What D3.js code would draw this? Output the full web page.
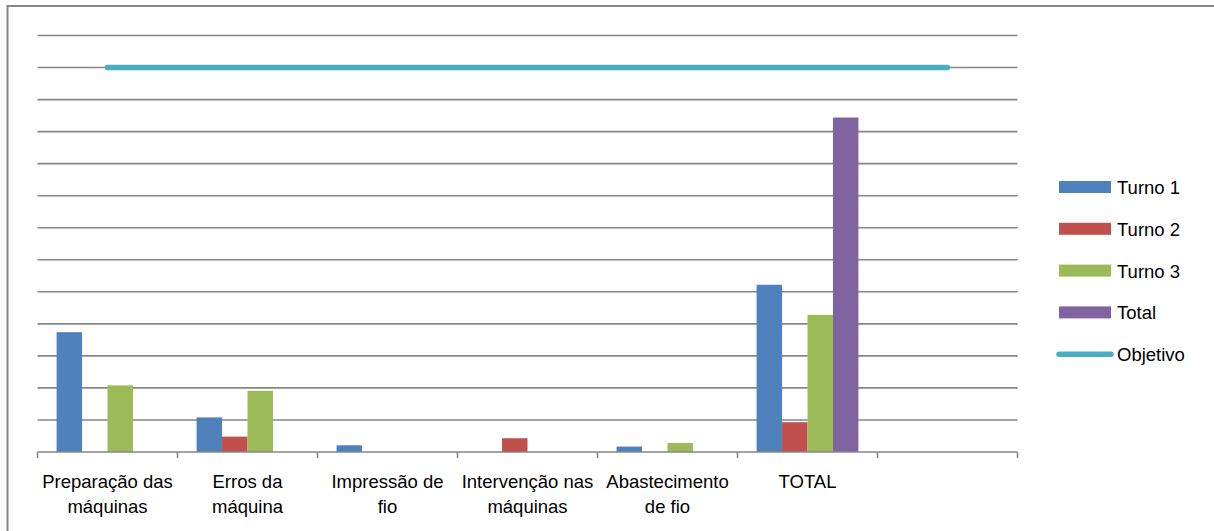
<!DOCTYPE html>
<html>
<head>
<meta charset="utf-8">
<script src="https://cdn.jsdelivr.net/npm/d3@7"></script>
<style>
  html, body { margin: 0; padding: 0; background: #fff; }
  svg { display: block; font-family: "Liberation Sans", Arial, sans-serif; }
</style>
</head>
<body>
<svg id="chart" width="1214" height="531"></svg>
<script>
const categories = [
  ['Preparação das', 'máquinas'],
  ['Erros da', 'máquina'],
  ['Impressão de', 'fio'],
  ['Intervenção nas', 'máquinas'],
  ['Abastecimento', 'de fio'],
  ['TOTAL'],
  ['']
]
const seriesNames = ['Turno 1', 'Turno 2', 'Turno 3', 'Total']
const seriesColors = ['#4F81BD', '#C0504D', '#9BBB59', '#8064A2']
const turno1 = [3.74, 1.08, 0.21, 0, 0.17, 5.22, null]
const turno2 = [0, 0.48, 0, 0.43, 0, 0.93, null]
const turno3 = [2.08, 1.91, 0, 0, 0.28, 4.28, null]
const total = [0, 0, 0, 0, 0, 10.44, null]
const objetivo = [12, 12, 12, 12, 12, 12, 12]
const objetivoColor = '#4BACC6'
const yTicks = d3.range(0, 14, 1)

const svg = d3.select('#chart')

// chart frame (only left and top edges are visible in the picture)
svg.append('rect')
  .attr('x', 7.5).attr('y', 6)
  .attr('width', 1230).attr('height', 540)
  .attr('fill', 'none')
  .attr('stroke', '#868686')
  .attr('stroke-width', 2)

const plot = { left: 37.5, right: 1017.5, top: 35.5, bottom: 452 }

const x0 = d3.scaleBand()
  .domain(d3.range(categories.length))
  .range([plot.left, plot.right])

const x1 = d3.scaleBand()
  .domain(seriesNames)
  .range([0, x0.bandwidth()])
  .paddingInner(0)
  .paddingOuter(0.75)

const y = d3.scaleLinear()
  .domain([0, 13])
  .range([plot.bottom, plot.top])

// gridlines
svg.append('g')
  .selectAll('line')
  .data(yTicks.slice(1))
  .join('line')
  .attr('x1', plot.left).attr('x2', plot.right)
  .attr('y1', (d) => y(d)).attr('y2', (d) => y(d))
  .attr('stroke', '#868686')
  .attr('stroke-width', 1.6)

// bars
const seriesValues = [turno1, turno2, turno3, total]
const barData = []
seriesValues.forEach((vals, si) => {
  vals.forEach((v, ci) => {
    if (v) barData.push({ ci, si, v })
  })
})

svg.append('g')
  .selectAll('rect')
  .data(barData)
  .join('rect')
  .attr('x', (d) => x0(d.ci) + x1(seriesNames[d.si]))
  .attr('width', x1.bandwidth())
  .attr('y', (d) => y(d.v))
  .attr('height', (d) => y(0) - y(d.v))
  .attr('fill', (d) => seriesColors[d.si])

// x axis
const xAxis = svg.append('g')
xAxis.append('line')
  .attr('x1', plot.left).attr('x2', plot.right)
  .attr('y1', plot.bottom).attr('y2', plot.bottom)
  .attr('stroke', '#868686')
  .attr('stroke-width', 1.6)

xAxis.selectAll('line.tick')
  .data(d3.range(categories.length + 1))
  .join('line')
  .attr('class', 'tick')
  .attr('x1', (i) => plot.left + i * x0.bandwidth())
  .attr('x2', (i) => plot.left + i * x0.bandwidth())
  .attr('y1', plot.bottom).attr('y2', plot.bottom + 6)
  .attr('stroke', '#868686')
  .attr('stroke-width', 1.6)

xAxis.selectAll('text')
  .data(categories)
  .join('text')
  .attr('x', (d, i) => x0(i) + x0.bandwidth() / 2)
  .attr('y', 488)
  .attr('text-anchor', 'middle')
  .attr('font-size', 18.5)
  .attr('fill', '#000')
  .each(function (lines) {
    const el = d3.select(this)
    lines.forEach((line, i) => {
      el.append('tspan')
        .attr('x', el.attr('x'))
        .attr('dy', i === 0 ? 0 : 25)
        .text(line)
    })
  })

// objetivo line
const line = d3.line()
  .x((d, i) => x0(i) + x0.bandwidth() / 2)
  .y((d) => y(d))

svg.append('path')
  .datum(objetivo)
  .attr('d', line)
  .attr('fill', 'none')
  .attr('stroke', objetivoColor)
  .attr('stroke-width', 5.5)
  .attr('stroke-linecap', 'round')

// legend
const legend = svg.append('g').attr('transform', 'translate(1059,187)')
const items = seriesNames.map((name, i) => ({ name, color: seriesColors[i], type: 'bar' }))
items.push({ name: 'Objetivo', color: objetivoColor, type: 'line' })

const li = legend.selectAll('g')
  .data(items)
  .join('g')
  .attr('transform', (d, i) => `translate(0,${i * 41.8})`)

li.filter((d) => d.type === 'bar')
  .append('rect')
  .attr('x', 0).attr('y', -6)
  .attr('width', 52).attr('height', 12)
  .attr('fill', (d) => d.color)

li.filter((d) => d.type === 'line')
  .append('line')
  .attr('x1', 0).attr('x2', 52)
  .attr('y1', 0).attr('y2', 0)
  .attr('stroke', (d) => d.color)
  .attr('stroke-width', 5.5)
  .attr('stroke-linecap', 'round')

li.append('text')
  .attr('x', 58)
  .attr('y', 7)
  .attr('font-size', 18.5)
  .attr('fill', '#000')
  .text((d) => d.name)
</script>
</body>
</html>
